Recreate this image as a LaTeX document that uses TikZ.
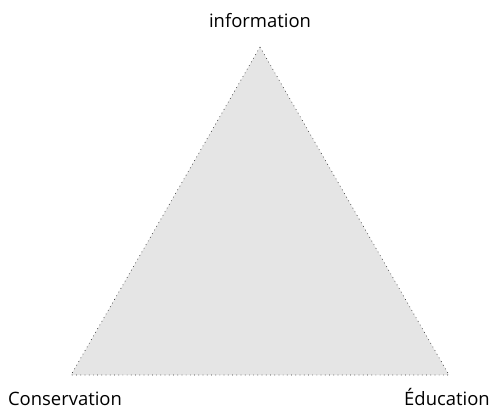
\documentclass[tikz,border=0pt]{standalone}
\usepackage{fontspec}
\setmainfont{Open Sans}
\tikzset{%
	corner/.style = {coordinate}, % triangle corner
	tag/.style    = {font=\fontsize{10.5}{12}\selectfont, inner sep=0pt, anchor=base}, % corner label
	area/.style   = {draw=black!80, dotted, fill=black!10} % triangle
}
\begin{document}
\begin{tikzpicture}[x=0.02cm,y=-0.02cm]
	\useasboundingbox (0,0) rectangle (497,409);
	
	\node[corner] at (260,47) (top) {};
	\node[corner] at (71,375) (left) {};
	\node[corner] at (449,375) (right) {};
	\node[tag] at (260,28) (info) {information};
	\node[tag] at (65,405) (cons) {Conservation};
	\node[tag] at (447,405) (edu) {Éducation};
	
	\filldraw[area] (top) -- (left) -- (right) -- cycle;
	
\end{tikzpicture}
\end{document}
